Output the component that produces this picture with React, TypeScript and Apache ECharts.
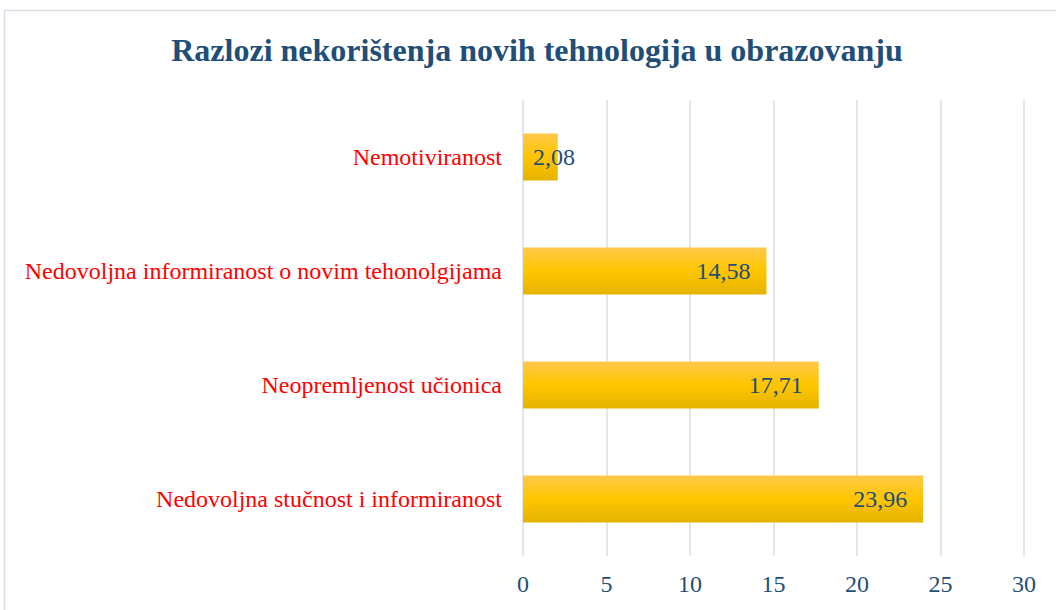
import React, { useEffect, useRef } from "react";
import * as echarts from "echarts";

const title = "Razlozi nekorištenja novih tehnologija u obrazovanju";
const categories = [
  "Nedovoljna stučnost i informiranost",
  "Neopremljenost učionica",
  "Nedovoljna informiranost o novim tehonolgijama",
  "Nemotiviranost",
];
const values = [23.96, 17.71, 14.58, 2.08];
const xTicks = { min: 0, max: 30, interval: 5 };

const SERIF = "'Liberation Serif', 'Times New Roman', serif";
const BLUE = "#1F4E79";

export default function App() {
  const ref = useRef<HTMLDivElement>(null);
  useEffect(() => {
    if (!ref.current) return;
    const chart = echarts.init(ref.current, undefined, { renderer: "svg" });
    const fmt = (v: number) => v.toFixed(2).replace(".", ",");
    chart.setOption({
      animation: false,
      backgroundColor: "#ffffff",
      title: {
        text: title,
        left: 532,
        textAlign: "center",
        top: 29,
        textStyle: { fontFamily: SERIF, fontSize: 32, fontWeight: "bold", color: BLUE },
      },
      graphic: [
        {
          type: "rect",
          shape: { x: 4.5, y: 10.5, width: 1100, height: 700 },
          style: { fill: "none", stroke: "#D9DDE6", lineWidth: 1.5 },
          silent: true,
        },
      ],
      grid: { left: 523, right: 32, top: 100, height: 456, containLabel: false },
      xAxis: {
        type: "value",
        min: xTicks.min,
        max: xTicks.max,
        interval: xTicks.interval,
        axisLine: { show: false },
        axisTick: { show: false },
        splitLine: { show: true, lineStyle: { color: "#D9DEE8", width: 1.5 } },
        axisLabel: { fontFamily: SERIF, fontSize: 24, color: BLUE, margin: 16 },
      },
      yAxis: {
        type: "category",
        data: categories,
        axisLine: { show: false },
        axisTick: { show: false },
        axisLabel: { fontFamily: SERIF, fontSize: 24, color: "#FF0000", margin: 21 },
      },
      series: [
        {
          type: "bar",
          barWidth: 47,
          data: values.map((v) => {
            const small = v < 5;
            return {
              value: v,
              label: small
                ? { position: "insideLeft", distance: 10 }
                : { position: "insideRight", distance: 16 },
            };
          }),
          itemStyle: {
            color: new echarts.graphic.LinearGradient(0, 0, 0, 1, [
              { offset: 0, color: "#FFC84A" },
              { offset: 0.5, color: "#FFC600" },
              { offset: 1, color: "#E5B300" },
            ]),
          },
          label: {
            show: true,
            fontFamily: SERIF,
            fontSize: 24,
            color: BLUE,
            formatter: (p: any) => fmt(p.value),
          },
        },
      ],
    });
    return () => chart.dispose();
  }, []);
  return (
    <div
      ref={ref}
      style={{ position: "fixed", left: 0, top: 0, width: 1056, height: 610 }}
    />
  );
}
